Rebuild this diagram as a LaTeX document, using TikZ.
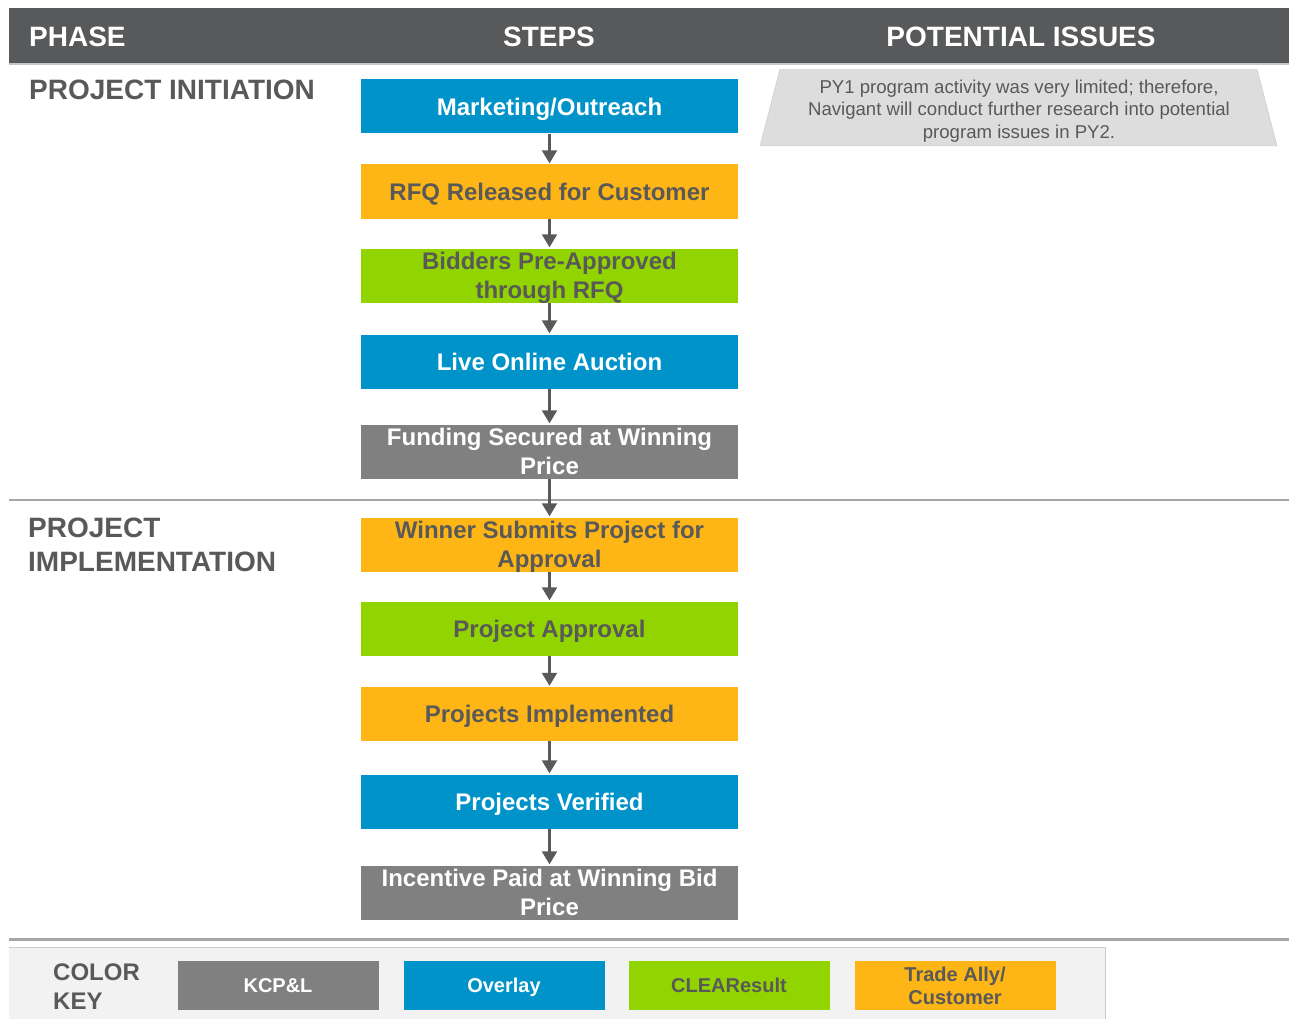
\documentclass[tikz,border=0pt]{standalone}
\usepackage{fontspec}
\setmainfont{Liberation Sans}
\usetikzlibrary{arrows.meta}
\tikzset{>={Triangle[width=15pt,length=13pt]}}

\definecolor{headgray}{RGB}{88,89,91}
\definecolor{txtgray}{RGB}{89,89,89}
\definecolor{kcpgray}{RGB}{128,128,128}
\definecolor{overlayblue}{RGB}{0,147,201}
\definecolor{clrgreen}{RGB}{146,212,0}
\definecolor{allyorange}{RGB}{253,182,21}
\definecolor{rulegray}{RGB}{166,166,166}
\definecolor{issuegray}{RGB}{221,221,221}
\definecolor{keybg}{RGB}{242,242,242}

\tikzset{
  stepbox/.style={minimum width=377pt, minimum height=54pt, inner sep=0pt, text depth=0pt,
    align=center, font=\fontsize{24}{29}\selectfont\bfseries},
  keybox/.style={minimum width=201pt, minimum height=49pt, inner sep=0pt, text depth=0pt,
    align=center, font=\fontsize{20}{23}\selectfont\bfseries},
  headtext/.style={text=white, anchor=base, inner sep=0pt, font=\fontsize{28}{34}\selectfont\bfseries},
  phasetext/.style={text=headgray, align=left, inner sep=0pt, font=\fontsize{28}{34}\selectfont\bfseries},
  flowarrow/.style={->, line width=2.2pt, draw=txtgray, shorten >=1pt}
}

\begin{document}
\begin{tikzpicture}[x=1pt, y=-1pt]

\useasboundingbox (0,0) rectangle (1289,1019);

% Header band
\fill[headgray] (9,8) rectangle (1289,63);
\draw[gray!45, line width=1.5pt] (9,64) -- (1289,64);
\node[headtext, anchor=base west] (hphase) at (29,47) {PHASE};
\node[headtext] (hsteps) at (549,47) {STEPS};
\node[headtext] (hissues) at (1021,47) {POTENTIAL ISSUES};

% Phase separators
\draw[rulegray, line width=2pt] (9,500) -- (1289,500);
\draw[rulegray, line width=3pt] (9,939) -- (1289,939);

% Phase labels
\node[phasetext, anchor=base west] (pinit) at (29,100) {PROJECT INITIATION};
\node[phasetext, anchor=west] (pimpl) at (28,544.5) {PROJECT\\IMPLEMENTATION};

% Steps
\node[stepbox, fill=overlayblue, text=white] (s1) at (549.5,106.5) {Marketing/Outreach};
\node[stepbox, fill=allyorange, text=txtgray] (s2) at (549.5,191.5) {RFQ Released for Customer};
\node[stepbox, fill=clrgreen, text=txtgray] (s3) at (549.5,275.5) {Bidders Pre-Approved\\through RFQ};
\node[stepbox, fill=overlayblue, text=white] (s4) at (549.5,361.5) {Live Online Auction};
\node[stepbox, fill=kcpgray, text=white] (s5) at (549.5,451.5) {Funding Secured at Winning\\Price};
\node[stepbox, fill=allyorange, text=txtgray] (s6) at (549.5,544.5) {Winner Submits Project for\\Approval};
\node[stepbox, fill=clrgreen, text=txtgray] (s7) at (549.5,628.5) {Project Approval};
\node[stepbox, fill=allyorange, text=txtgray] (s8) at (549.5,714) {Projects Implemented};
\node[stepbox, fill=overlayblue, text=white] (s9) at (549.5,801.5) {Projects Verified};
\node[stepbox, fill=kcpgray, text=white] (s10) at (549.5,892.5) {Incentive Paid at Winning Bid\\Price};

\foreach \a/\b in {s1/s2, s2/s3, s3/s4, s4/s5, s5/s6, s6/s7, s7/s8, s8/s9, s9/s10}
  \draw[flowarrow] (\a) -- (\b);

% Potential issues
\fill[issuegray] (780,69) -- (1257,69) -- (1277,146) -- (760,146) -- cycle;
\draw[gray!45, thin] (780,69) -- (760,146) -- (1277,146) -- (1257,69);
\node[text=txtgray, align=center, font=\fontsize{18.6}{22.5}\selectfont] (issue) at (1019,111)
  {PY1 program activity was very limited; therefore,\\Navigant will conduct further research into potential\\program issues in PY2.};

% Color key
\fill[keybg] (9,947) rectangle (1105,1019);
\draw[gray!40, line width=1pt] (9,947) -- (1105,947) -- (1105,1019);
\node[phasetext, anchor=west, text=txtgray, font=\fontsize{24}{29}\selectfont\bfseries] (ckey) at (53,986.5) {COLOR\\KEY};
\foreach \n/\x/\col/\fg/\txt in {kcp/278/kcpgray/white/{KCP\&L}, ovl/504/overlayblue/white/{Overlay},
    clr/729/clrgreen/txtgray/{CLEAResult}, ally/955/allyorange/txtgray/{Trade Ally/\\Customer}}
  \node[keybox, fill=\col, text=\fg] (key-\n) at (\x,985.5) {\txt};

\end{tikzpicture}
\end{document}
